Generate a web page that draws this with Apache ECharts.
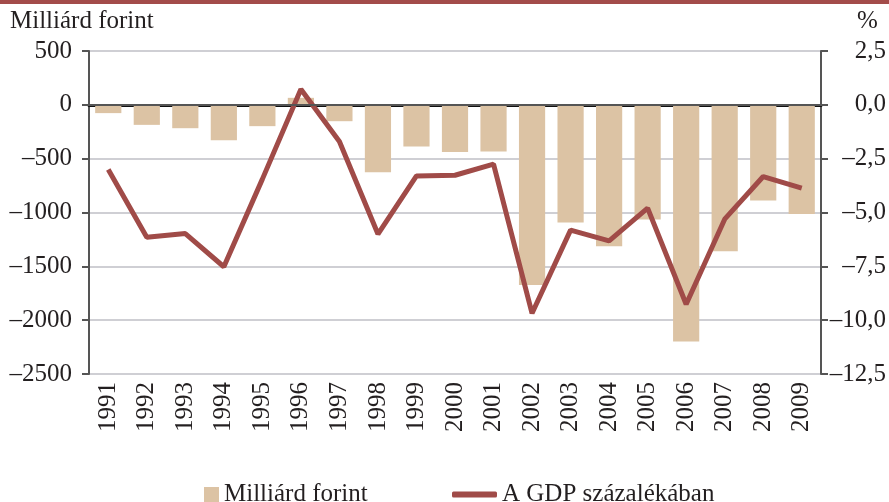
<!DOCTYPE html>
<html>
<head>
<meta charset="utf-8">
<script src="https://cdn.jsdelivr.net/npm/echarts@6/dist/echarts.min.js"></script>
<style>
  html, body { margin: 0; padding: 0; background: #fff; }
  #chart { width: 889px; height: 502px; }
</style>
</head>
<body>
<div id="chart"></div>
<script>
// evek
var years = ['1991', '1992', '1993', '1994', '1995', '1996', '1997', '1998', '1999', '2000',
    '2001', '2002', '2003', '2004', '2005', '2006', '2007', '2008', '2009'];
// milliard forint (bal tengely)
var billions = [-77, -186, -217, -330, -198, 65, -152, -626, -388, -437,
    -434, -1673, -1094, -1314, -1066, -2197, -1361, -889, -1013];
// a GDP szazalekaban (jobb tengely)
var gdpPct = [-3.0, -6.15, -5.98, -7.52, -3.45, 0.72, -1.7, -6.0, -3.3, -3.27,
    -2.75, -9.68, -5.82, -6.32, -4.8, -9.26, -5.31, -3.33, -3.87];

var FONT = 'Liberation Serif';
var FS = 25;
var TXT = '#231f20';
var BAR = '#dcc3a4';
var LINE = '#a04b48';

function dash(s) {
    return s.replace('-', '\u2013');
}

var chart = echarts.init(document.getElementById('chart'));
var option = {
    animation: false,
    textStyle: { fontFamily: FONT, color: TXT },
    graphic: [{
        type: 'rect',
        left: 0, top: 0,
        shape: { width: 889, height: 4 },
        style: { fill: '#a34c4a' }
    }, {
        type: 'text',
        left: 10, top: 9,
        style: { text: 'Milliárd forint', font: FS + 'px "Liberation Serif"', fill: TXT }
    }, {
        type: 'text',
        left: 857, top: 9,
        style: { text: '%', font: FS + 'px "Liberation Serif"', fill: TXT }
    }],
    grid: { left: 89, right: 67, top: 51, bottom: 128 },
    legend: [{
        left: 199, top: 477,
        icon: 'rect', itemWidth: 15, itemHeight: 15, itemGap: 0,
        data: ['Milliárd forint'],
        textStyle: { fontFamily: FONT, fontSize: FS, color: TXT }
    }, {
        left: 447, top: 477,
        icon: 'roundRect', itemWidth: 45, itemHeight: 6,
        data: ['A GDP százalékában'],
        textStyle: { fontFamily: FONT, fontSize: FS, color: TXT }
    }],
    xAxis: [{
        type: 'category',
        data: years,
        axisLine: { lineStyle: { color: '#333', width: 2 } },
        axisTick: { length: 6, lineStyle: { color: '#333', width: 2 } },
        axisLabel: { rotate: 90, margin: 8, fontFamily: FONT, fontSize: FS, color: TXT }
    }, {
        type: 'category',
        position: 'top',
        data: years,
        axisLine: { lineStyle: { color: '#111', width: 3 } },
        axisTick: { show: false },
        axisLabel: { show: false }
    }],
    yAxis: [{
        type: 'value',
        min: -2500, max: 500, interval: 500,
        axisLine: { show: true, lineStyle: { color: '#555', width: 2 } },
        axisTick: { show: true, length: 7, lineStyle: { color: '#555', width: 2 } },
        axisLabel: {
            margin: 17, fontFamily: FONT, fontSize: FS, color: TXT,
            formatter: function(v) { return dash(String(v)); }
        },
        splitLine: { lineStyle: { color: '#cfcfd4', width: 2 } }
    }, {
        type: 'value',
        min: -12.5, max: 2.5, interval: 2.5,
        position: 'right',
        axisLine: { show: true, lineStyle: { color: '#555', width: 2 } },
        axisTick: { show: true, length: 7, lineStyle: { color: '#555', width: 2 } },
        axisLabel: {
            margin: 65, align: 'right', fontFamily: FONT, fontSize: FS, color: TXT,
            formatter: function(v) { return dash(v.toFixed(1).replace('.', ',')); }
        },
        splitLine: { show: false }
    }],
    series: [{
        name: 'Milliárd forint',
        type: 'bar',
        data: billions,
        barWidth: '68%',
        itemStyle: { color: BAR },
        markLine: {
            silent: true,
            symbol: 'none',
            label: { show: false },
            lineStyle: { color: '#555', width: 2, type: 'solid' },
            data: [{ yAxis: 0 }]
        }
    }, {
        name: 'A GDP százalékában',
        type: 'line',
        yAxisIndex: 1,
        data: gdpPct,
        symbol: 'none',
        itemStyle: { color: LINE },
        lineStyle: { color: LINE, width: 5 }
    }]
};
chart.setOption(option);
</script>
</body>
</html>
